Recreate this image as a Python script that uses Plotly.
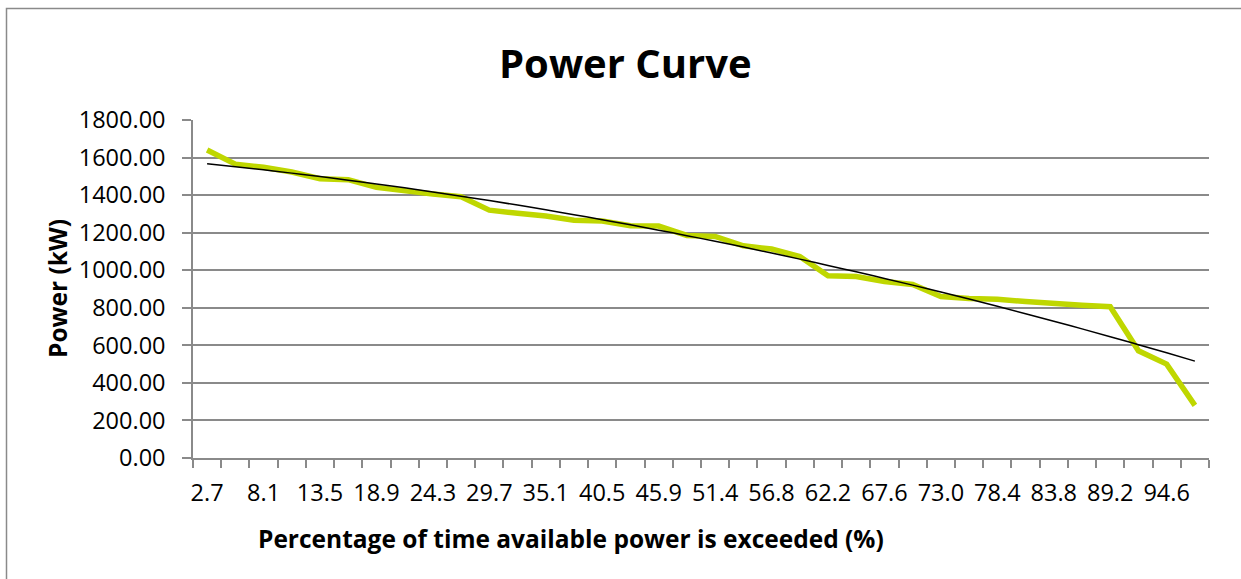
import numpy as np
import plotly.graph_objects as go

categories = ["2.7", "5.4", "8.1", "10.8", "13.5", "16.2", "18.9", "21.6", "24.3", "27.0",
              "29.7", "32.4", "35.1", "37.8", "40.5", "43.2", "45.9", "48.6", "51.4", "54.1",
              "56.8", "59.5", "62.2", "64.9", "67.6", "70.3", "73.0", "75.7", "78.4", "81.1",
              "83.8", "86.5", "89.2", "91.9", "94.6", "97.3"]
power_kw = [1640, 1565, 1548, 1523, 1487, 1482, 1441, 1420, 1406, 1391,
            1320, 1303, 1289, 1266, 1262, 1237, 1235, 1185, 1180, 1130,
            1113, 1073, 970, 966, 940, 924, 860, 849, 845, 833,
            820, 813, 806, 571, 500, 280]
y_ticks = [0, 200, 400, 600, 800, 1000, 1200, 1400, 1600, 1800]

# polynomial (order 2) trendline, as Excel's trendline
idx = np.arange(1, len(power_kw) + 1)
coef = np.polyfit(idx, power_kw, 2)
trend = np.polyval(coef, idx).tolist()

W, H = 1241, 579
L, R, T, B = 193, 32, 120, 121
PW, PH = W - L - R, H - T - B

def px(x):
    return (x - L) / PW

def py(y):
    return (H - B - y) / PH

FONT = "Open Sans"
GRAY = "#8a8a8a"

fig = go.Figure()
fig.add_trace(go.Scatter(x=categories, y=power_kw, mode="lines",
                         line=dict(color="#BFD700", width=5.5), showlegend=False))
fig.add_trace(go.Scatter(x=categories, y=trend, mode="lines", line_shape="spline",
                         line=dict(color="#000000", width=1.5), showlegend=False))

ticktext = [c if i % 2 == 0 else "" for i, c in enumerate(categories)]

fig.update_layout(
    width=W, height=H,
    margin=dict(l=L, r=R, t=T, b=B, pad=0),
    paper_bgcolor="white", plot_bgcolor="white",
    font=dict(family=FONT, color="#000000"),
    xaxis=dict(type="category", categoryorder="array", categoryarray=categories,
               range=[-0.5, len(categories) - 0.5],
               tickmode="array", tickvals=categories, ticktext=ticktext,
               tickson="boundaries", ticks="outside", ticklen=8, tickcolor=GRAY, tickwidth=1.5,
               showline=True, linecolor=GRAY, linewidth=1.5, showgrid=False,
               tickfont=dict(size=23.5, family=FONT), tickangle=0, ticklabelstandoff=13),
    yaxis=dict(range=[0, 1800], tickmode="array", tickvals=y_ticks, tickformat=".2f",
               ticks="outside", ticklen=9, tickcolor=GRAY, tickwidth=1.5,
               showline=True, linecolor=GRAY, linewidth=1.5,
               showgrid=True, gridcolor=GRAY, gridwidth=1.5, zeroline=False,
               tickfont=dict(size=23.5, family=FONT), ticklabelstandoff=12),
    shapes=[dict(type="rect", xref="paper", yref="paper",
                 x0=px(6.5), x1=px(1260), y0=py(600), y1=py(8.5),
                 line=dict(color=GRAY, width=1.5), layer="below")],
    annotations=[
        dict(text="<b>Power Curve</b>", xref="paper", yref="paper", x=px(625), y=py(62),
             xanchor="center", yanchor="middle", showarrow=False,
             font=dict(size=40, family=FONT, color="#000000")),
        dict(text="<b>Power (kW)</b>", xref="paper", yref="paper", x=px(57), y=py(289),
             xanchor="center", yanchor="middle", textangle=-90, showarrow=False,
             font=dict(size=24.5, family=FONT, color="#000000")),
        dict(text="<b>Percentage of time available power is exceeded (%)</b>", xref="paper",
             yref="paper", x=px(571), y=py(538), xanchor="center", yanchor="middle",
             showarrow=False, font=dict(size=24.5, family=FONT, color="#000000")),
    ],
)

fig.write_html("out.html")
